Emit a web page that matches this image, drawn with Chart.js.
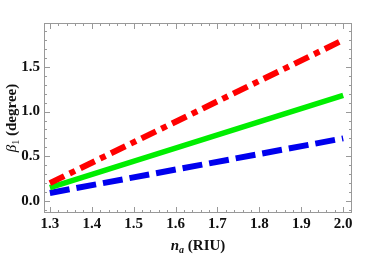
<!DOCTYPE html>
<html>
<head>
<meta charset="utf-8">
<script src="https://cdn.jsdelivr.net/npm/chart.js@4"></script>
<style>
  html, body { margin: 0; padding: 0; background: #fff; }
  #wrap { width: 374px; height: 256px; }
</style>
</head>
<body>
<div id="wrap"><canvas id="beta"></canvas></div>
<script>
// refractive index of analyte (RIU)
const nA = [1.3, 2.0];
const betaRed = [0.2, 1.8];
const betaGreen = [0.15, 1.18];
const betaBlue = [0.09, 0.7];

const xTicks = [1.3, 1.4, 1.5, 1.6, 1.7, 1.8, 1.9, 2.0];
const yTicks = [0.0, 0.5, 1.0, 1.5];

const FONT = "'Liberation Serif', 'Times New Roman', serif";

function toXY(ys) {
  return nA.map((x, i) => ({ x: x, y: ys[i] }));
}

// mathematica-like frame: inward ticks on every side + labels
const framePlugin = {
  id: "frame",
  afterDraw(chart) {
    const ctx = chart.ctx;
    const a = chart.chartArea;
    const sx = chart.scales.x;
    const sy = chart.scales.y;
    ctx.save();
    ctx.strokeStyle = "#999";
    ctx.lineWidth = 1;
    ctx.strokeRect(a.left + 0.5, a.top + 0.5, a.right - a.left - 1, a.bottom - a.top - 1);

    ctx.beginPath();
    // x ticks (major 0.1, minor 0.02)
    for (let v = 1.28; v <= 2.021; v += 0.02) {
      const px = Math.round(sx.getPixelForValue(v)) + 0.5;
      if (px < a.left || px > a.right) continue;
      const major = Math.abs(v * 10 - Math.round(v * 10)) < 1e-6;
      const len = major ? 6 : 3;
      ctx.moveTo(px, a.bottom); ctx.lineTo(px, a.bottom - len);
      ctx.moveTo(px, a.top); ctx.lineTo(px, a.top + len);
    }
    // y ticks (major 0.5, minor 0.1)
    for (let v = -0.1; v <= 2.0; v += 0.1) {
      const py = Math.round(sy.getPixelForValue(v)) + 0.5;
      if (py < a.top || py > a.bottom) continue;
      const major = Math.abs(v * 2 - Math.round(v * 2)) < 1e-6;
      const len = major ? 6 : 3;
      ctx.moveTo(a.left, py); ctx.lineTo(a.left + len, py);
      ctx.moveTo(a.right, py); ctx.lineTo(a.right - len, py);
    }
    ctx.stroke();

    ctx.fillStyle = "#111";
    ctx.font = "bold 15px " + FONT;
    ctx.textAlign = "center";
    ctx.textBaseline = "middle";
    xTicks.forEach(v => {
      ctx.fillText(v.toFixed(1), sx.getPixelForValue(v), a.bottom + 11);
    });
    ctx.textAlign = "right";
    yTicks.forEach(v => {
      ctx.fillText(v.toFixed(1), a.left - 4, sy.getPixelForValue(v));
    });

    // x title: n_a (RIU)
    const cx = (a.left + a.right) / 2;
    const ty = 250;
    ctx.textAlign = "left";
    ctx.textBaseline = "alphabetic";
    const p1 = "n", p2 = "a", p3 = " (RIU)";
    ctx.font = "italic bold 15px " + FONT;
    const w1 = ctx.measureText(p1).width;
    ctx.font = "italic bold 10px " + FONT;
    const w2 = ctx.measureText(p2).width;
    ctx.font = "bold 15px " + FONT;
    const w3 = ctx.measureText(p3).width;
    let x0 = cx - (w1 + w2 + w3) / 2;
    ctx.font = "italic bold 15px " + FONT;
    ctx.fillText(p1, x0, ty);
    ctx.font = "italic bold 10px " + FONT;
    ctx.fillText(p2, x0 + w1, ty + 3);
    ctx.font = "bold 15px " + FONT;
    ctx.fillText(p3, x0 + w1 + w2, ty);

    // y title: beta_1 (degree)
    ctx.translate(12, (a.top + a.bottom) / 2);
    ctx.rotate(-Math.PI / 2);
    const q1 = "β", q2 = "1", q3 = " (degree)";
    ctx.font = "italic 15px " + FONT;
    const v1 = ctx.measureText(q1).width;
    ctx.font = "10px " + FONT;
    const v2 = ctx.measureText(q2).width;
    ctx.font = "bold 15px " + FONT;
    const v3 = ctx.measureText(q3).width;
    x0 = -(v1 + v2 + v3) / 2;
    ctx.font = "italic 15px " + FONT;
    ctx.fillText(q1, x0, 4);
    ctx.font = "10px " + FONT;
    ctx.fillText(q2, x0 + v1, 7);
    ctx.font = "bold 15px " + FONT;
    ctx.fillText(q3, x0 + v1 + v2, 4);
    ctx.restore();
  }
};

const config = {
  type: "line",
  data: {
    datasets: [
      {
        label: "red",
        data: toXY(betaRed),
        borderColor: "#ff0000",
        borderWidth: 6,
        borderDash: [16, 6, 6, 6],
        borderCapStyle: "butt",
        pointRadius: 0,
      },
      {
        label: "green",
        data: toXY(betaGreen),
        borderColor: "#00ee00",
        borderWidth: 5.5,
        pointRadius: 0,
      },
      {
        label: "blue",
        data: toXY(betaBlue),
        borderColor: "#0000ee",
        borderWidth: 6,
        borderDash: [20, 7],
        borderCapStyle: "butt",
        pointRadius: 0,
      },
    ],
  },
  options: {
    responsive: true,
    maintainAspectRatio: false,
    animation: false,
    layout: { padding: { left: 44, top: 23, right: 22, bottom: 43 } },
    scales: {
      x: { type: "linear", min: 1.286, max: 2.021, display: false },
      y: { type: "linear", min: -0.134, max: 1.99, display: false },
    },
    plugins: {
      legend: { display: false },
      tooltip: { enabled: false },
    },
  },
  plugins: [framePlugin],
};

new Chart(document.getElementById("beta"), config);
</script>
</body>
</html>
